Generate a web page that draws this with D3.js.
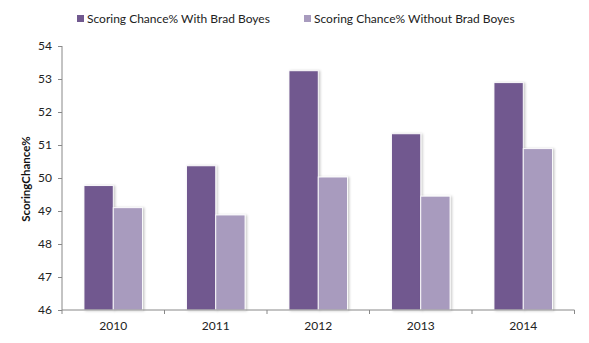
<!DOCTYPE html>
<html>
<head>
<meta charset="utf-8">
<script src="https://cdn.jsdelivr.net/npm/d3@7/dist/d3.min.js"></script>
<style>
  html, body { margin: 0; padding: 0; background: #fff; }
  svg { display: block; font-family: Lato, "Open Sans", sans-serif; }
</style>
</head>
<body>
<svg id="chart" width="589" height="343"></svg>
<script>
// Seasons and scoring-chance percentages
const years = ["2010", "2011", "2012", "2013", "2014"];
const seriesNames = ["Scoring Chance% With Brad Boyes", "Scoring Chance% Without Brad Boyes"];
const withBoyes = [49.77, 50.37, 53.25, 51.34, 52.89];
const withoutBoyes = [49.10, 48.88, 50.03, 49.45, 50.89];
const yTicks = [46, 47, 48, 49, 50, 51, 52, 53, 54];
const colors = ["#71598f", "#a89bbe"];

const svg = d3.select("#chart");
const plotL = 62, plotR = 574.5, plotT = 46, plotB = 310;

const x0 = d3.scaleBand().domain(years).range([plotL, plotR]).paddingInner(0).paddingOuter(0);
const barW = x0.bandwidth() / 3.5;           // gap width 150%
const groupOffset = (x0.bandwidth() - 2 * barW) / 2;
const x1 = d3.scaleBand().domain(seriesNames).range([0, 2 * barW]);
const y = d3.scaleLinear().domain([46, 54]).range([plotB, plotT]);

// soft shadow on the bars
const defs = svg.append("defs");
const f = defs.append("filter").attr("id", "shadow").attr("x", "-20%").attr("y", "-20%").attr("width", "140%").attr("height", "140%");
f.append("feDropShadow").attr("dx", 1.5).attr("dy", 0.5).attr("stdDeviation", 0.8)
  .attr("flood-color", "#000").attr("flood-opacity", 0.22);

const rows = years.map((yr, i) => ({ year: yr, vals: [withBoyes[i], withoutBoyes[i]] }));

const groups = svg.append("g").selectAll("g").data(rows).join("g")
  .attr("transform", d => `translate(${x0(d.year) + groupOffset},0)`);

groups.selectAll("rect").data(d => d.vals.map((v, k) => ({ v, k })))
  .join("rect")
  .attr("x", d => x1(seriesNames[d.k]))
  .attr("y", d => y(d.v))
  .attr("width", x1.bandwidth())
  .attr("height", d => y(46) - y(d.v))
  .attr("fill", d => colors[d.k])
  .attr("stroke", "#fff")
  .attr("stroke-width", 0.9)
  .attr("filter", "url(#shadow)");

// Y axis
const yAxis = d3.axisLeft(y).tickValues(yTicks).tickSize(4).tickPadding(6).tickFormat(d3.format("d"));
const gy = svg.append("g").attr("transform", `translate(${plotL},0)`).call(yAxis);
gy.select(".domain").attr("stroke", "#888").attr("d", `M0,${plotT}V${plotB}`);
gy.selectAll(".tick line").attr("stroke", "#888");
gy.selectAll(".tick text").attr("fill", "#222").style("font-size", "12px").style("font-family", "Lato, sans-serif");

// X axis: category labels, boundary ticks
const xAxis = d3.axisBottom(x0).tickSize(0).tickPadding(11);
const gx = svg.append("g").attr("transform", `translate(0,${plotB})`).call(xAxis);
gx.select(".domain").attr("stroke", "#888").attr("d", `M${plotL},0H${plotR}`);
gx.selectAll(".tick text").attr("fill", "#222").style("font-size", "12px").style("font-family", "Lato, sans-serif");
const bounds = years.map(d => x0(d)).concat([plotR]);
gx.selectAll(".bound").data(bounds).join("line").attr("class", "bound")
  .attr("x1", d => d).attr("x2", d => d).attr("y1", 0).attr("y2", 4)
  .attr("stroke", "#888");

// Y axis title
svg.append("text")
  .attr("transform", `translate(30,${(plotT + plotB) / 2 + 1}) rotate(-90)`)
  .attr("text-anchor", "middle")
  .style("font-size", "11.5px").style("font-weight", "bold")
  .attr("fill", "#111")
  .text("ScoringChance%");

// Legend
const legendX = [77, 304];
const leg = svg.append("g").selectAll("g").data(seriesNames).join("g")
  .attr("transform", (d, i) => `translate(${legendX[i]},19)`);
leg.append("rect").attr("x", 0).attr("y", -4).attr("width", 7).attr("height", 7)
  .attr("fill", (d, i) => colors[i]);
leg.append("text").attr("x", 10).attr("y", 0).attr("dy", "0.35em")
  .style("font-size", "12px").attr("fill", "#222").text(d => d);
</script>
</body>
</html>
